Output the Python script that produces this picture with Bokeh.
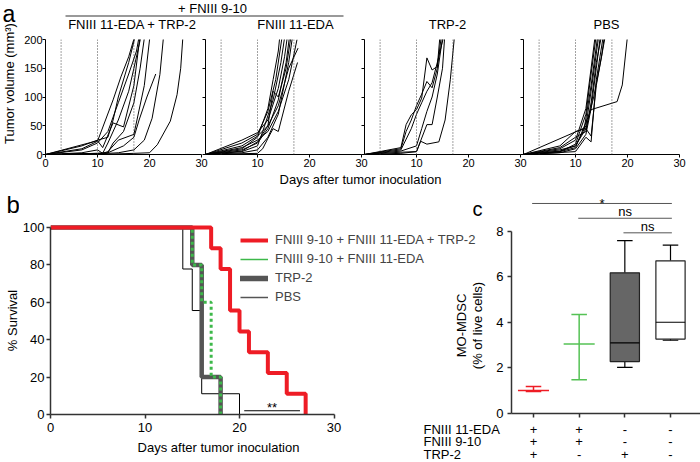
import numpy as np
from bokeh.plotting import figure
from bokeh.models import (Range1d, FixedTicker, Span, Legend, LegendItem)
from bokeh.layouts import column, row
from bokeh.embed import file_html
from bokeh.resources import INLINE
from bokeh.core.properties import value

FONT = "Liberation Sans"

# ---------------- data ----------------
treatment_days = [3, 10, 17]
day_ticks = [0, 10, 20, 30]
volume_ticks = [0, 50, 100, 150, 200]
panel_a_header = "+ FNIII 9-10"
panel_a_titles = ["FNIII 11-EDA + TRP-2", "FNIII 11-EDA", "TRP-2", "PBS"]

# tumour growth, one list per mouse (days, volume mm3)
combo_days = [[0, 7, 10, 13, 14.5, 16, 17.3],
              [0, 7, 10, 12, 14, 16, 17.5, 18.2],
              [0, 10, 11, 13, 15, 17, 18.3],
              [0, 7, 10, 11, 12, 14, 16, 17, 18.6],
              [0, 10, 12, 13, 15, 17, 18.2, 19.2],
              [0, 10, 11, 12, 14, 17, 19, 20.2],
              [0, 10, 12, 15, 17, 18, 19.5, 21.2],
              [0, 10, 12, 14, 17, 19, 20.5, 22, 22.8],
              [0, 10, 17, 20, 21.5, 24, 25.3, 26, 26.5],
              [0, 7, 10, 12, 13, 14, 16, 17.5]]
combo_vols = [[0, 10, 23, 95, 135, 170, 210],
              [0, 8, 20, 40, 90, 140, 180, 215],
              [0, 24, 12, 55, 48, 120, 215],
              [0, 3, 8, 2, 20, 60, 110, 150, 215],
              [0, 2, 3, 20, 40, 90, 150, 215],
              [0, 1, 2, 5, 25, 35, 120, 215],
              [0, 2, 3, 15, 30, 60, 100, 140],
              [0, 1, 2, 3, 8, 25, 63, 139, 215],
              [0, 0, 2, 3, 17, 58, 104, 150, 215],
              [0, 15, 25, 30, 60, 100, 160, 215]]

eda_days = [[0, 7, 10, 12, 13, 14, 14.4],
            [0, 7, 10, 12, 13.5, 14.9],
            [0, 7, 10, 11, 13, 14.5, 15.4],
            [0, 7, 10, 12, 14, 15.2, 15.9],
            [0, 7, 10, 12, 14, 15.5, 16.3],
            [0, 7, 10, 12, 13, 14, 15.5, 16.6],
            [0, 7, 10, 12, 14, 16, 16.9],
            [0, 7, 10, 12, 14, 16, 17.6],
            [0, 10, 11, 12, 13, 14, 16, 17.7],
            [0, 7, 10, 12, 14, 16, 17.8]]
eda_vols = [[0, 10, 30, 80, 130, 180, 215],
            [0, 20, 35, 75, 130, 215],
            [0, 5, 15, 40, 95, 160, 215],
            [0, 25, 38, 60, 115, 170, 215],
            [0, 8, 20, 45, 95, 160, 215],
            [0, 6, 22, 50, 110, 100, 150, 215],
            [0, 3, 8, 30, 70, 160, 215],
            [0, 12, 25, 40, 75, 130, 200],
            [0, 2, 10, 28, 45, 40, 110, 160],
            [0, 15, 32, 50, 85, 150, 185]]

trp_days = [[0, 7, 8, 9, 10, 11, 12, 13, 14, 14.6],
            [0, 7, 8, 9, 10, 11, 12, 13, 14, 14.9],
            [0, 7, 9, 10, 11, 12, 13, 14, 15.5],
            [0, 7, 10, 12, 13, 14, 15, 15.5],
            [0, 7, 10, 10.8, 12, 14.3, 15.5, 16.5, 17.4],
            [0, 7, 10, 11, 12, 13, 14, 15.2]]
trp_vols = [[0, 12, 52, 69, 78, 98, 168, 147, 153, 215],
            [0, 10, 40, 60, 85, 105, 127, 116, 150, 215],
            [0, 8, 45, 70, 90, 110, 125, 160, 215],
            [0, 4, 5, 52, 52, 100, 150, 215],
            [0, 2, 5, 23, 18, 22, 60, 130, 215],
            [0, 6, 15, 45, 75, 100, 140, 215]]

pbs_days = [[0, 7, 10, 12, 13, 13.9],
            [0, 7, 10, 12, 13, 14.1],
            [0, 11.7, 13, 14.4],
            [0, 7, 10, 12, 13, 14.6],
            [0, 7, 10, 12, 13, 14, 14.9],
            [0, 7, 10, 12, 13, 14, 15.2],
            [0, 10, 12, 13, 14, 15.5],
            [0, 7, 10, 12, 13, 14, 15.9],
            [0, 7, 10, 13, 18, 19, 20.1],
            [0, 7, 10, 12, 13.5, 15, 15.7]]
pbs_vols = [[0, 10, 25, 80, 150, 215],
            [0, 5, 18, 70, 140, 215],
            [0, 46, 120, 215],
            [0, 8, 15, 50, 110, 215],
            [0, 3, 10, 35, 80, 150, 215],
            [0, 12, 30, 40, 90, 160, 215],
            [0, 5, 30, 22, 130, 215],
            [0, 6, 15, 45, 32, 120, 215],
            [0, 5, 12, 78, 92, 121, 215],
            [0, 15, 40, 45, 100, 170, 215]]

# survival (Kaplan-Meier steps)
surv_labels = ["FNIII 9-10 + FNIII 11-EDA + TRP-2", "FNIII 9-10 + FNIII 11-EDA", "TRP-2", "PBS"]
surv_combo_days = [0, 17, 18, 19, 20, 21, 23, 25, 27]
surv_combo_pct = [100, 88.9, 77.8, 55.6, 44.4, 33.3, 22.2, 11.1, 0]
surv_eda_days = [0, 15, 16, 17, 18]
surv_eda_pct = [100, 80, 60, 20, 0]
surv_trp_days = [0, 15, 16, 18]
surv_trp_pct = [100, 80, 20, 0]
surv_pbs_days = [0, 14, 15, 16, 20]
surv_pbs_pct = [100, 77.8, 55.6, 11.1, 0]
surv_ticks = [0, 20, 40, 60, 80, 100]
surv_sig = ("**", 20.5, 26.4, 2)

# MO-MDSC
c_pos = [1, 2, 3, 4]
c_ticks = [0, 2, 4, 6, 8]
err_pos = [1, 2]
err_mean = [1.01, 3.05]
err_low = [0.97, 1.48]
err_high = [1.19, 4.35]
box_pos = [3, 4]
box_wlo = [2.03, 3.22]
box_q1 = [2.28, 3.27]
box_med = [3.10, 4.01]
box_q3 = [6.18, 6.71]
box_whi = [7.60, 7.40]
sig_x0 = [0.97, 1.98, 2.97]
sig_x1 = [4.03, 4.03, 4.03]
sig_y = [9.23, 8.58, 7.94]
sig_text = ["*", "ns", "ns"]
table_rows = ["FNIII 11-EDA", "FNIII 9-10", "TRP-2"]
signs_eda = ["+", "+", "-", "-"]
signs_fn910 = ["+", "+", "-", "-"]
signs_trp = ["+", "-", "+", "-"]

RED = "#EE1C25"
GREEN = "#3DB84A"
GRAY = "#555555"


def base(**kw):
    p = figure(toolbar_location=None, output_backend="svg", title=None, **kw)
    p.outline_line_color = None
    return p


def text_box(x0, x1, y0, y1):
    """A frame-only figure whose data coordinates equal page pixels."""
    p = base(frame_width=x1 - x0, frame_height=y1 - y0, x_range=Range1d(x0, x1),
             y_range=Range1d(y1, y0), x_axis_type=None, y_axis_type=None, min_border=0)
    p.border_fill_color = None
    p.background_fill_color = None
    return p


def put(p, x, y, s, size="13px", align="center", angle=0.0):
    p.text(x=[x], y=[y], text=[s], text_font=value(FONT), text_font_size=size,
           text_align=align, text_baseline="middle", angle=angle, text_color="black")


def style_axis(ax, size, color="black", width=1, out=3, standoff=1):
    ax.axis_line_color = color
    ax.axis_line_width = width
    ax.major_tick_line_color = color
    ax.major_tick_line_width = width
    ax.major_tick_out = out
    ax.major_tick_in = 0
    ax.minor_tick_line_color = None
    ax.major_label_text_font = FONT
    ax.major_label_text_font_size = size
    ax.major_label_text_color = "black"
    ax.major_label_standoff = standoff


def hide_labels(ax, standoff):
    ax.major_label_text_font_size = "1px"
    ax.major_label_text_color = None
    ax.major_label_standoff = standoff


# ---------------- panel a ----------------
strip_a = text_box(0, 21, 0, 171)
put(strip_a, 2, 13, "a", size="23px", align="left")
put(strip_a, 9, 83, "Tumor volume (mm³)", angle=np.pi / 2)

hdr = text_box(21, 700, 0, 32)
put(hdr, 212, 7.6, panel_a_header)
hdr.segment(x0=[65], y0=[15.5], x1=[343], y1=[15.5], line_color="#777777", line_width=1.5)
for tx, title in zip([132, 295, 447, 606], panel_a_titles):
    put(hdr, tx, 24.4, title)

panels = []
groups = [(combo_days, combo_vols), (eda_days, eda_vols), (trp_days, trp_vols), (pbs_days, pbs_vols)]
for i, (dd, vv) in enumerate(groups):
    first = i == 0
    last = i == 3
    p = base(frame_width=156, frame_height=115, x_range=Range1d(0, 30), y_range=Range1d(0, 200),
             min_border_left=22 if first else (4 if i == 1 else 3),
             min_border_right=23 if last else 7,
             min_border_top=7, min_border_bottom=17)
    p.xgrid.visible = False
    p.ygrid.visible = False
    # neighbouring panels share the day-30 / day-0 corner: only the left one labels it
    p.xaxis.ticker = FixedTicker(ticks=day_ticks if first else day_ticks[1:])
    p.yaxis.ticker = FixedTicker(ticks=volume_ticks)
    style_axis(p.xaxis[0], "11px", out=3, standoff=1)
    style_axis(p.yaxis[0], "11px", out=3, standoff=0)
    if not first:
        hide_labels(p.yaxis[0], -2)
        p.margin = (0, 0, 0, -7)
        p.border_fill_color = None
        p.background_fill_color = None
    for d in treatment_days:
        p.add_layout(Span(location=d, dimension="height", line_color="#444444",
                          line_dash="1 2", line_width=1))
    p.multi_line(xs=dd, ys=vv, line_color="black", line_width=1)
    panels.append(p)

ftr = text_box(0, 700, 171, 187)
put(ftr, 360, 178.5, "Days after tumor inoculation")

# ---------------- panel b ----------------
strip_b = text_box(0, 19, 187, 462)
put(strip_b, 6, 204, "b", size="24px", align="left")
put(strip_b, 12, 320, "% Survival", angle=np.pi / 2)

px_per_day = 9.45
b = base(frame_width=435, frame_height=193, x_range=Range1d(0, 435 / px_per_day),
         y_range=Range1d(0, 103.2),
         min_border_left=31, min_border_right=0, min_border_top=34, min_border_bottom=24)
b.xgrid.visible = False
b.ygrid.visible = False
b.xaxis.ticker = FixedTicker(ticks=day_ticks)
b.yaxis.ticker = FixedTicker(ticks=surv_ticks)
b.xaxis.bounds = (0, 30)
b.yaxis.bounds = (0, 100)
style_axis(b.xaxis[0], "13px", color="#333333", width=1.5, out=4, standoff=4)
style_axis(b.yaxis[0], "13px", color="#333333", width=1.5, out=4, standoff=2)

b.step(x=surv_pbs_days, y=surv_pbs_pct, mode="after", line_color="black", line_width=1)
b.step(x=surv_trp_days, y=surv_trp_pct, mode="after", line_color=GRAY, line_width=4.5)
b.step(x=surv_eda_days, y=surv_eda_pct, mode="after", line_color=GREEN, line_width=3,
       line_dash="3 3")
b.step(x=surv_combo_days, y=surv_combo_pct, mode="after", line_color=RED, line_width=4)

nan2 = [np.nan, np.nan]
lg_red = b.line(x=nan2, y=nan2, line_color=RED, line_width=4)
lg_green = b.line(x=nan2, y=nan2, line_color=GREEN, line_width=1.5)
lg_gray = b.line(x=nan2, y=nan2, line_color=GRAY, line_width=5.5, line_cap="round")
lg_pbs = b.line(x=nan2, y=nan2, line_color=GRAY, line_width=1.5)
legend = Legend(items=[LegendItem(label=surv_labels[0], renderers=[lg_red]),
                       LegendItem(label=surv_labels[1], renderers=[lg_green]),
                       LegendItem(label=surv_labels[2], renderers=[lg_gray]),
                       LegendItem(label=surv_labels[3], renderers=[lg_pbs])],
                location=(190, 110), border_line_color=None, background_fill_alpha=0,
                padding=0, margin=0, spacing=4, glyph_width=28, glyph_height=12,
                label_height=12, label_standoff=7, label_text_font=FONT,
                label_text_font_size="13px")
b.add_layout(legend, "center")

b.segment(x0=[surv_sig[1]], y0=[surv_sig[3]], x1=[surv_sig[2]], y1=[surv_sig[3]],
          line_color="black", line_width=1)
b.text(x=[(surv_sig[1] + surv_sig[2]) / 2], y=[surv_sig[3] + 2.0], text=[surv_sig[0]],
       text_font=value(FONT), text_font_size="13px", text_align="center",
       text_baseline="middle")

xlab_b = text_box(19, 485, 438, 462)
put(xlab_b, 187, 446.5, "Days after tumor inoculation")

# ---------------- panel c ----------------
strip_c = text_box(420, 490, 187, 421)
put(strip_c, 477, 205, "c", size="20px")
put(strip_c, 461, 322, "MO-MDSC", angle=np.pi / 2)
put(strip_c, 477, 322, "(% of live cells)", angle=np.pi / 2)

cat_px = 45.67
c = base(frame_width=189, frame_height=223, x_range=Range1d(1 - 22 / cat_px, 4 + 30 / cat_px),
         y_range=Range1d(0, 9.8),
         min_border_left=21, min_border_right=0, min_border_top=3, min_border_bottom=8)
c.border_fill_color = None
c.background_fill_color = None
c.xgrid.visible = False
c.ygrid.visible = False
c.xaxis.ticker = FixedTicker(ticks=c_pos)
c.yaxis.ticker = FixedTicker(ticks=c_ticks)
c.yaxis.bounds = (0, 8)
style_axis(c.xaxis[0], "13px", color="#333333", width=1.5, out=4, standoff=0)
hide_labels(c.xaxis[0], -1)
style_axis(c.yaxis[0], "13px", color="#333333", width=1.5, out=4, standoff=4)

err_cols = [RED, "#55C255"]
c.segment(x0=err_pos, y0=err_low, x1=err_pos, y1=err_high, line_color=err_cols, line_width=1.5)
c.segment(x0=[x - 0.17 for x in err_pos], y0=err_high, x1=[x + 0.17 for x in err_pos],
          y1=err_high, line_color=err_cols, line_width=1.5)
c.segment(x0=[x - 0.17 for x in err_pos], y0=err_low, x1=[x + 0.17 for x in err_pos],
          y1=err_low, line_color=err_cols, line_width=1.5)
c.segment(x0=[x - 0.34 for x in err_pos], y0=err_mean, x1=[x + 0.34 for x in err_pos],
          y1=err_mean, line_color=err_cols, line_width=1.5)

c.segment(x0=box_pos, y0=box_q3, x1=box_pos, y1=box_whi, line_color="black", line_width=1.2)
c.segment(x0=box_pos, y0=box_wlo, x1=box_pos, y1=box_q1, line_color="black", line_width=1.2)
c.segment(x0=[x - 0.17 for x in box_pos], y0=box_whi, x1=[x + 0.17 for x in box_pos],
          y1=box_whi, line_color="black", line_width=1.2)
c.segment(x0=[x - 0.17 for x in box_pos], y0=box_wlo, x1=[x + 0.17 for x in box_pos],
          y1=box_wlo, line_color="black", line_width=1.2)
c.vbar(x=box_pos, bottom=box_q1, top=box_q3, width=0.64, fill_color=["#666666", "white"],
       line_color="#222222", line_width=1.2)
c.segment(x0=[x - 0.32 for x in box_pos], y0=box_med, x1=[x + 0.32 for x in box_pos],
          y1=box_med, line_color="black", line_width=1.2)

c.segment(x0=sig_x0, y0=sig_y, x1=sig_x1, y1=sig_y, line_color="#555555", line_width=1)
sig_text_y = [y + (0.02 if t == "*" else 0.28) for y, t in zip(sig_y, sig_text)]
c.text(x=[(a + b_) / 2 for a, b_ in zip(sig_x0, sig_x1)], y=sig_text_y, text=sig_text,
       text_font=value(FONT), text_font_size="13px", text_align="center",
       text_baseline="middle")

# treatment table under panel c, same category scale as the plot
tbl = base(frame_width=280, frame_height=41,
           x_range=Range1d(1 - 113 / cat_px, 4 + 30 / cat_px), y_range=Range1d(462, 421),
           x_axis_type=None, y_axis_type=None, min_border=0)
tbl.border_fill_color = None
tbl.background_fill_color = None
row_y = [428.6, 441.3, 454.0]
tbl.text(x=c_pos * 3, y=[row_y[0]] * 4 + [row_y[1]] * 4 + [row_y[2]] * 4,
         text=signs_eda + signs_fn910 + signs_trp, text_font=value(FONT),
         text_font_size="13px", text_align="center", text_baseline="middle")
tbl.text(x=[1 - 110 / cat_px] * 3, y=row_y, text=table_rows, text_font=value(FONT),
         text_font_size="13px", text_align="left", text_baseline="middle")

c_block = column(row(strip_c, c), tbl)
c_block.margin = (0, 0, 0, -65)

layout = column(row(strip_a, column(hdr, row(*panels))), ftr,
                row(strip_b, column(b, xlab_b), c_block))
open("out.html", "w").write(file_html(layout, INLINE))
